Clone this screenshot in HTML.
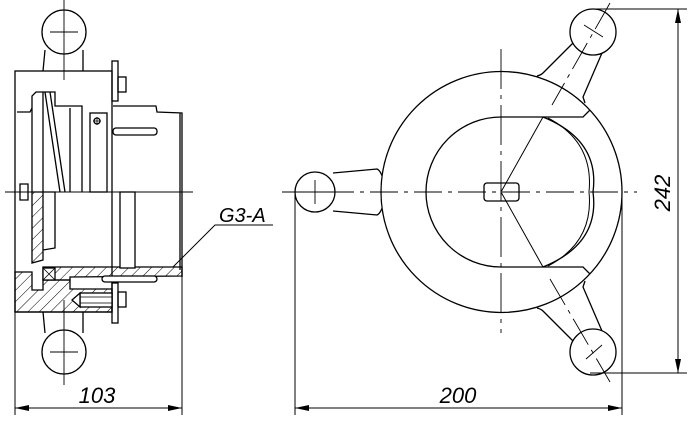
<!DOCTYPE html>
<html><head><meta charset="utf-8"><style>
html,body{margin:0;padding:0;background:#fff;}
svg{display:block;}
text{font-family:"Liberation Sans",sans-serif;font-style:italic;fill:#000;}
</style></head><body>
<svg width="690" height="425" viewBox="0 0 690 425" xmlns="http://www.w3.org/2000/svg">
<defs>
<pattern id="h" patternUnits="userSpaceOnUse" width="8" height="8" patternTransform="rotate(45)">
<line x1="0" y1="0" x2="0" y2="8" stroke="#000" stroke-width="1"/>
</pattern>
<marker id="a" markerWidth="14" markerHeight="6" refX="14" refY="3" orient="auto" markerUnits="userSpaceOnUse">
<path d="M0,0 L14,3 L0,6 Z" fill="#000"/>
</marker>
</defs>
<g fill="none" stroke="#000" stroke-width="1.3">
<!-- LEFT VIEW -->
<!-- balls and arms -->
<circle cx="64" cy="32" r="22" fill="#fff"/>
<path d="M45,50 L43,71 M83,50 L83,71"/>
<circle cx="64" cy="352" r="22" fill="#fff"/>
<path d="M43,312 L45,333 M83,312 L83,333"/>
<!-- body -->
<rect x="15" y="71" width="97" height="241" fill="#fff"/>
<!-- flange plates & bolt heads -->
<rect x="112" y="61" width="6" height="40"/>
<rect x="118" y="77" width="8" height="15"/>
<rect x="112" y="283" width="6" height="40"/>
<rect x="118" y="292" width="8" height="15"/>
<!-- cylinder -->
<path d="M113,106 L156,106 L157,112 L182,113 L182,277 M180,113 L180,270"/>
<rect x="113" y="128" width="44" height="7" rx="3"/>
<!-- upper internals -->
<path d="M17,112 L30,112 L32,108 L32,192"/>
<path d="M32,108 L32,96 L36,92 L55,92 L55,106 L82,106 L82,192"/>
<path d="M43,92 L43,192 M70,108 L70,192"/>
<path d="M45,92 L60,192 M50,92 L65,192"/>
<rect x="90" y="113" width="17" height="79"/>
<circle cx="97" cy="121" r="3"/>
<path d="M93,121 L101,121 M97,117 L97,125" stroke-width="0.8"/>
<path d="M20,184 L28,184 L28,200 L20,200 Z"/>
<!-- lower internals (section) -->
<path d="M32,192 L43,192 L43,260 L32,263 Z" fill="url(#h)"/>
<path d="M43,192 L55,192 L55,248 L43,250"/>
<path d="M15,272 L32,272 L32,290 L43,290 L43,280 L70,280 L70,289 L112,289 L112,312 L15,312 Z" fill="url(#h)"/>
<path d="M43,267 L182,267 L182,276 L70,277 L70,280 L43,280 Z" fill="url(#h)"/>
<rect x="43" y="268" width="12" height="12" fill="#fff"/>
<path d="M43,268 L55,280 M55,268 L43,280" stroke-width="0.8"/>
<rect x="102" y="276" width="55" height="6" rx="3" fill="#fff"/>
<rect x="120" y="192" width="15" height="76" fill="#fff"/>
<rect x="80" y="293" width="32" height="14" fill="#fff"/>
<path d="M72,300 L80,293 L80,307 Z" fill="#fff"/>
<path d="M80,297 L112,297 M80,303 L112,303" stroke-width="0.8"/>
<!-- leader G3-A -->
<path d="M173,267 L215,225 L273,225" stroke-width="1"/>
<!-- dimension 103 -->
<path d="M15,312 L15,415 M182,277 L182,415" stroke-width="1"/>
<line x1="97" y1="408" x2="15" y2="408" stroke-width="1" marker-end="url(#a)"/>
<line x1="97" y1="408" x2="182" y2="408" stroke-width="1" marker-end="url(#a)"/>

<!-- RIGHT VIEW -->
<!-- arms -->
<path d="M333,173 L377,169 Q380,170 383,178"/>
<path d="M333,211 L377,215 Q380,214 383,206"/>
<circle cx="315" cy="192" r="20" fill="#fff"/>
<path d="M573,43 L543,73 Q541,75 537,76"/>
<path d="M602,53 L583,97 L585,103"/>
<circle cx="593" cy="32" r="23" fill="#fff"/>
<path d="M573,341 L543,311 Q541,309 537,308"/>
<path d="M602,331 L583,287 L585,281"/>
<circle cx="593" cy="352" r="23" fill="#fff"/>
<!-- main ring -->
<circle cx="501.5" cy="192" r="120.5" fill="#fff"/>
<path d="M501,117 A75,75 0 0 0 501,267"/>
<path d="M501,117 L583,117 L590,110 M501,267 L583,267 L590,274"/>
<path d="M543,117 Q600,140 593,192 Q600,244 543,267"/>
<path d="M548,118 Q594,142 589,192 Q594,242 548,266" stroke-width="1"/>
<path d="M543,117 L501,192 L543,267" stroke-width="1"/>
<rect x="484" y="183" width="35" height="18" rx="3"/>
<!-- dimension 242 -->
<path d="M590,9 L687,9 M590,373 L687,373" stroke-width="1"/>
<line x1="678" y1="190" x2="678" y2="9" stroke-width="1" marker-end="url(#a)"/>
<line x1="678" y1="190" x2="678" y2="373" stroke-width="1" marker-end="url(#a)"/>
<!-- dimension 200 -->
<path d="M295,192 L295,415 M622,192 L622,415" stroke-width="1"/>
<line x1="458" y1="408" x2="295" y2="408" stroke-width="1" marker-end="url(#a)"/>
<line x1="458" y1="408" x2="622" y2="408" stroke-width="1" marker-end="url(#a)"/>
</g>
<!-- center lines -->
<g stroke="#000" stroke-width="0.9" fill="none">
<path d="M5,192 L193,192"/>
<path d="M64,0 L64,80 M64,300 L64,385"/>
<path d="M50,32 L78,32 M50,352 L78,352"/>
<path d="M282,192 L637,192" stroke-dasharray="28,6,4,6"/>
<path d="M501,49 L501,333" stroke-dasharray="40,6,4,6"/>
<path d="M610,3 L552,105" stroke-dasharray="30,6,4,6"/>
<path d="M550,279 L610,382" stroke-dasharray="30,6,4,6"/>
<path d="M315,180 L315,204 M303,192 L327,192"/>
<path d="M584,25 L603,37 M586,359 L602,345"/>
<path d="M501,188 L501,196"/>
</g>
<text x="219" y="222" font-size="20">G3-A</text>
<text x="97" y="403" font-size="22" text-anchor="middle">103</text>
<text x="458" y="403" font-size="22" text-anchor="middle">200</text>
<text x="0" y="0" font-size="22" text-anchor="middle" transform="translate(670,193) rotate(-90)">242</text>
</svg>
</body></html>
